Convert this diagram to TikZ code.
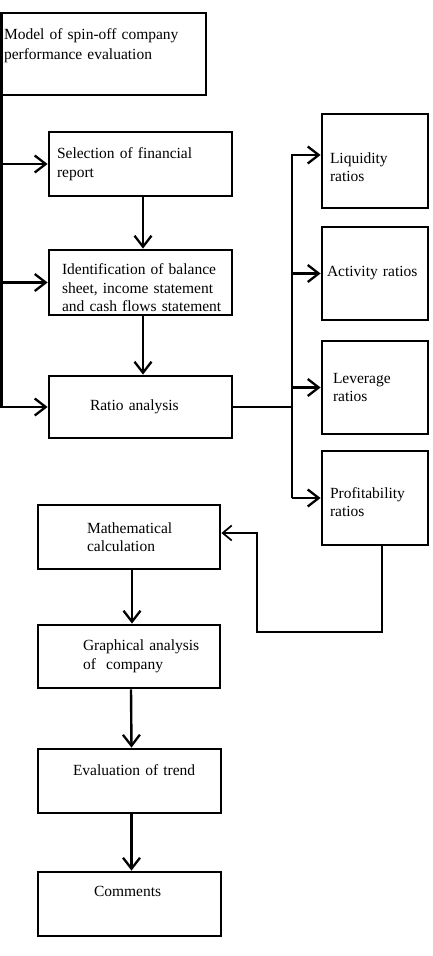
\documentclass[tikz,border=0pt]{standalone}
\usepackage{fontspec}
\setmainfont{Liberation Serif}
\usepackage{tikz}
\usetikzlibrary{arrows.meta,shapes}
\hyphenpenalty=10000
\exhyphenpenalty=10000
\hbadness=10000
\hfuzz=200pt

\begin{document}
\begin{tikzpicture}[box/.style={draw,rectangle,line width=2.8bp,inner sep=0pt,align=left,font=\fontsize{15.5bp}{18.5bp}\selectfont},
flow/.style={-{Straight Barb[length=11bp,width=17bp,line width=2.3bp]},line width=2.4bp},
trunk/.style={line width=2.4bp},
fine/.style={-{Straight Barb[length=9bp,width=15bp,line width=1.7bp]},line width=1.5bp}]
\useasboundingbox (0bp,0bp) rectangle (433bp,-956bp);
\node (model) at (103.75bp,-54bp)[box,minimum width=204.5bp,minimum height=82bp,text width=199.5bp,text depth=40bp,font=\fontsize{15.5bp}{20bp}\selectfont] {\mbox{Model of spin-off company}\\\mbox{performance evaluation}};
\node (sel) at (140.5bp,-164bp)[box,minimum width=183bp,minimum height=64bp,text width=167bp] {\mbox{Selection of financial}\\\mbox{report}};
\node (ident) at (140.5bp,-282.5bp)[box,minimum width=183bp,minimum height=65bp,text width=157bp,text height=22bp] {\mbox{Identification of balance}\\\mbox{sheet, income statement}\\\mbox{and cash flows statement}};
\node (ratio) at (140.5bp,-407bp)[box,minimum width=183bp,minimum height=62bp,text width=101bp] {\mbox{Ratio analysis}};
\node (liq) at (375bp,-161bp)[box,minimum width=106bp,minimum height=94bp,text width=90bp,text height=23bp] {\mbox{Liquidity}\\\mbox{ratios}};
\node (act) at (375bp,-273.5bp)[box,minimum width=106bp,minimum height=93bp,text width=96bp] {\mbox{Activity ratios}};
\node (lev) at (375bp,-387.5bp)[box,minimum width=106bp,minimum height=93bp,text width=84bp] {\mbox{Leverage}\\\mbox{ratios}};
\node (prof) at (375bp,-498bp)[box,minimum width=106bp,minimum height=94bp,text width=90bp,text height=19bp] {\mbox{Profitability}\\\mbox{ratios}};
\node (math) at (129bp,-537bp)[box,minimum width=182bp,minimum height=64bp,text width=84bp] {\mbox{Mathematical}\\\mbox{calculation}};
\node (graph) at (129bp,-656.5bp)[box,minimum width=182bp,minimum height=63bp,text width=92bp] {\mbox{Graphical analysis}\\\mbox{of\ \ company}};
\node (evalt) at (129.5bp,-781bp)[box,minimum width=183bp,minimum height=64bp,text width=113bp,text depth=21bp] {\mbox{Evaluation of trend}};
\node (comm) at (129.5bp,-904bp)[box,minimum width=183bp,minimum height=64bp,text width=71bp,text depth=25bp] {\mbox{Comments}};
% left spine
\coordinate (spine) at ([xshift=1.5bp]model.south west);
\draw [flow] (spine) |- (ratio.west);
\draw [flow] (spine |- sel.west) -- (sel.west);
\draw [flow] (spine |- ident.west) -- (ident.west);
\draw [flow] ([xshift=2.5bp]sel.south) -- ([xshift=2.5bp]ident.north);
\draw [flow] ([xshift=2.5bp]ident.south) -- ([xshift=2.5bp]ratio.north);
% ratio groups
\coordinate (br) at (292bp,-405bp);
\draw [trunk] (ratio.east) -- (ratio.east -| br);
\draw [flow] (br |- prof.west) |- ([yshift=6bp]liq.west);
\draw [flow] (br |- act.west) -- (act.west);
\draw [flow] (br |- lev.west) -- (lev.west);
\draw [flow] (br |- prof.west) -- (prof.west);
% back to calculation
\coordinate (fb) at (257bp,-632bp);
\draw [fine] ([xshift=7bp]prof.south) |- (fb) |- ([yshift=4bp]math.east);
\draw [flow] ([xshift=3bp]math.south) -- ([xshift=3bp]graph.north);
\draw [flow] ([xshift=2bp]graph.south) -- ([xshift=2bp]evalt.north);
\draw [flow] ([xshift=2bp]evalt.south) -- ([xshift=2bp]comm.north);
\end{tikzpicture}
\end{document}
